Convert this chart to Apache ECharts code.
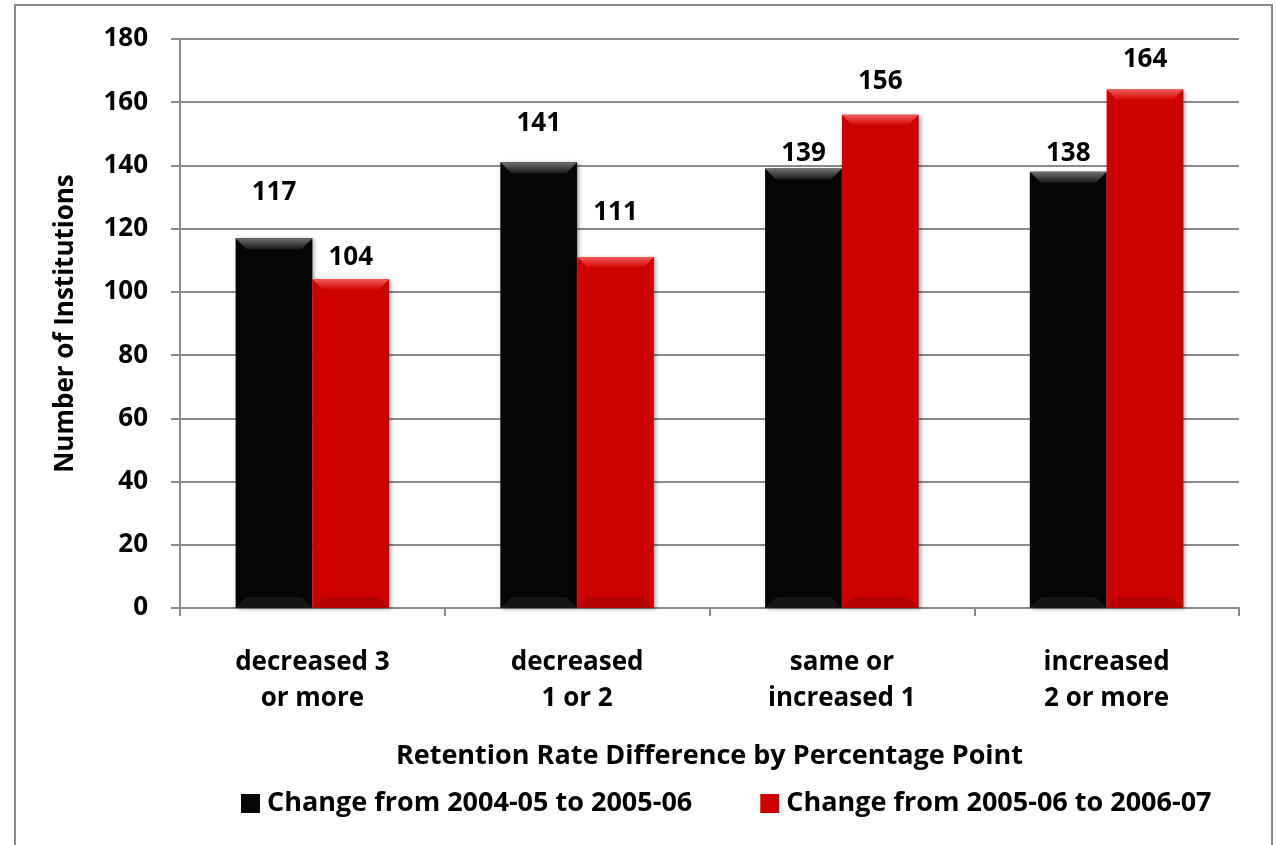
<!DOCTYPE html>
<html><head><meta charset="utf-8">
<script src="https://cdn.jsdelivr.net/npm/echarts@6/dist/echarts.min.js"></script>
<style>html,body{margin:0;padding:0;background:#fff}#c{width:1276px;height:845px}</style>
</head><body><div id="c"></div>
<script>
const categories = ['decreased 3\nor more', 'decreased\n1 or 2', 'same or\nincreased 1', 'increased\n2 or more'];
const seriesNames = ['Change from 2004-05 to 2005-06', 'Change from 2005-06 to 2006-07'];
const values0405 = [117, 141, 139, 138];
const values0506 = [104, 111, 156, 164];
const yTicks = {min: 0, max: 180, interval: 20};
// label lift above bar top (style only)
const labelLift0 = [33, 26, 2, 5];
const labelLift1 = [9, 32, 20, 17];

const FONT = 'Open Sans';
const FS = 26;
const FS_T = 27;
const chart = echarts.init(document.getElementById('c'));
const gapPct = 42;
const colors = ['#060606', '#cc0000'];
const bevelTop = [['#707070', '#1a1a1a'], ['#f25a5a', '#d20000']];
const bevelBottom = ['#262626', '#9a0000'];

function barSeries(i, vals, lifts) {
  return {
    name: seriesNames[i], type: 'bar', barGap: 0, barCategoryGap: gapPct + '%',
    itemStyle: {color: colors[i], shadowBlur: 4, shadowOffsetX: 2, shadowOffsetY: 1, shadowColor: 'rgba(0,0,0,0.35)'},
    data: vals.map((v, k) => ({value: v, label: {distance: lifts[k]}})),
    label: {show: true, position: 'top', color: '#000', fontFamily: FONT, fontWeight: 'bold', fontSize: FS},
    z: 2
  };
}
const bevelData = [];
values0405.forEach((v, k) => bevelData.push([k, v, 0]));
values0506.forEach((v, k) => bevelData.push([k, v, 1]));

chart.setOption({
  animation: false,
  textStyle: {fontFamily: FONT},
  graphic: [{type: 'rect', shape: {x: 15, y: 5, width: 1257, height: 850}, style: {fill: 'none', stroke: '#8a8a8a', lineWidth: 2}, z: -1}],
  grid: {left: 180, right: 37, top: 39, bottom: 237},
  legend: {
    bottom: 23, left: 236, itemWidth: 19, itemHeight: 19, itemGap: 68, icon: 'rect',
    data: seriesNames,
    textStyle: {fontFamily: FONT, fontWeight: 'bold', fontSize: FS_T, color: '#000', padding: [0, 0, 0, 2]}
  },
  xAxis: {
    type: 'category', data: categories,
    name: 'Retention Rate Difference by Percentage Point', nameLocation: 'middle', nameGap: 135,
    nameTextStyle: {fontFamily: FONT, fontWeight: 'bold', fontSize: FS_T, color: '#000'},
    axisLine: {lineStyle: {color: '#8a8a8a', width: 2}},
    axisTick: {show: true, length: 8, lineStyle: {color: '#8a8a8a', width: 2}},
    axisLabel: {margin: 37, fontFamily: FONT, fontWeight: 'bold', fontSize: FS, color: '#000', lineHeight: 36}
  },
  yAxis: {
    type: 'value', min: yTicks.min, max: yTicks.max, interval: yTicks.interval,
    name: 'Number of Institutions', nameLocation: 'middle', nameGap: 101, nameRotate: 90,
    nameTextStyle: {fontFamily: FONT, fontWeight: 'bold', fontSize: FS, color: '#000'},
    axisLine: {show: true, lineStyle: {color: '#8a8a8a', width: 2}},
    axisTick: {show: true, length: 9, lineStyle: {color: '#8a8a8a', width: 2}},
    splitLine: {lineStyle: {color: '#8a8a8a', width: 2}},
    axisLabel: {margin: 32, fontFamily: FONT, fontWeight: 'bold', fontSize: FS, color: '#000'}
  },
  series: [
    barSeries(0, values0405, labelLift0),
    barSeries(1, values0506, labelLift1),
    {
      type: 'custom', silent: true, z: 3, data: bevelData,
      renderItem: function (params, api) {
        const cat = api.value(0), val = api.value(1), s = api.value(2);
        const band = api.size([1, 0])[0];
        const bw = band * (1 - gapPct / 100) / 2;
        const top = api.coord([cat, val]);
        const base = api.coord([cat, 0]);
        const x0 = top[0] - bw + s * bw, x1 = x0 + bw;
        const y0 = top[1], yb = base[1];
        const d = 11;
        return {type: 'group', children: [
          {type: 'polygon', shape: {points: [[x0, y0], [x1, y0], [x1 - d, y0 + d], [x0 + d, y0 + d]]},
           style: {fill: new echarts.graphic.LinearGradient(0, 0, 0, 1, [{offset: 0, color: bevelTop[s][0]}, {offset: 1, color: bevelTop[s][1]}])}},
          {type: 'polygon', shape: {points: [[x0, yb], [x1, yb], [x1 - d, yb - d], [x0 + d, yb - d]]},
           style: {fill: bevelBottom[s], opacity: 0.5}}
        ]};
      }
    }
  ]
});
</script></body></html>
